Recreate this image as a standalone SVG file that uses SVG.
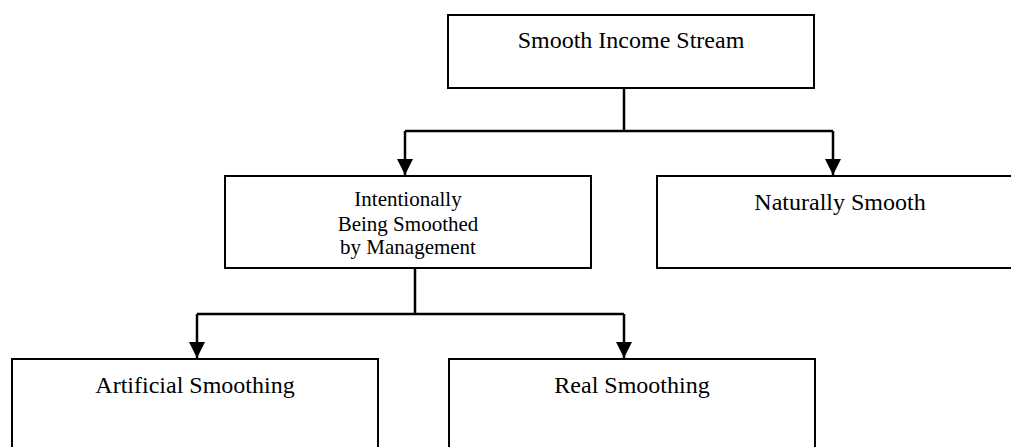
<svg xmlns="http://www.w3.org/2000/svg" width="1011" height="447" viewBox="0 0 1011 447">
<style>
.box{fill:#fff;stroke:#000;stroke-width:2}
.t{font-family:"Liberation Serif","Times New Roman",serif;fill:#000;text-anchor:middle}
.c{fill:none;stroke:#000;stroke-width:2.5}
</style>
<defs>
<marker id="ah" markerUnits="userSpaceOnUse" markerWidth="18" markerHeight="16" refX="16" refY="8" orient="auto">
<path d="M0,0 L16,8 L0,16 Z" fill="#000"/>
</marker>
</defs>
<rect width="1011" height="447" fill="#fff"/>
<g id="connectors">
<path class="c" d="M624,88 V131 M405,131 H833" />
<path class="c" d="M405,131 V175" marker-end="url(#ah)"/>
<path class="c" d="M833,131 V175" marker-end="url(#ah)"/>
<path class="c" d="M415,268 V314 M197,314 H624" />
<path class="c" d="M197,314 V358" marker-end="url(#ah)"/>
<path class="c" d="M624,314 V358" marker-end="url(#ah)"/>
</g>
<g id="n-top">
<rect class="box" x="448" y="15" width="366" height="73"/>
<text class="t" x="631" y="48" font-size="24">Smooth Income Stream</text>
</g>
<g id="n-intentional">
<rect class="box" x="225" y="176" width="366" height="92"/>
<text class="t" x="408" y="206" font-size="21">Intentionally</text>
<text class="t" x="408" y="231" font-size="21">Being Smoothed</text>
<text class="t" x="408" y="254" font-size="21">by Management</text>
</g>
<g id="n-natural">
<rect class="box" x="657" y="176" width="366" height="92"/>
<text class="t" x="840" y="210" font-size="24">Naturally Smooth</text>
</g>
<g id="n-artificial">
<rect class="box" x="12" y="359" width="366" height="100"/>
<text class="t" x="195" y="393" font-size="24">Artificial Smoothing</text>
</g>
<g id="n-real">
<rect class="box" x="449" y="359" width="366" height="100"/>
<text class="t" x="632" y="393" font-size="24">Real Smoothing</text>
</g>
</svg>
